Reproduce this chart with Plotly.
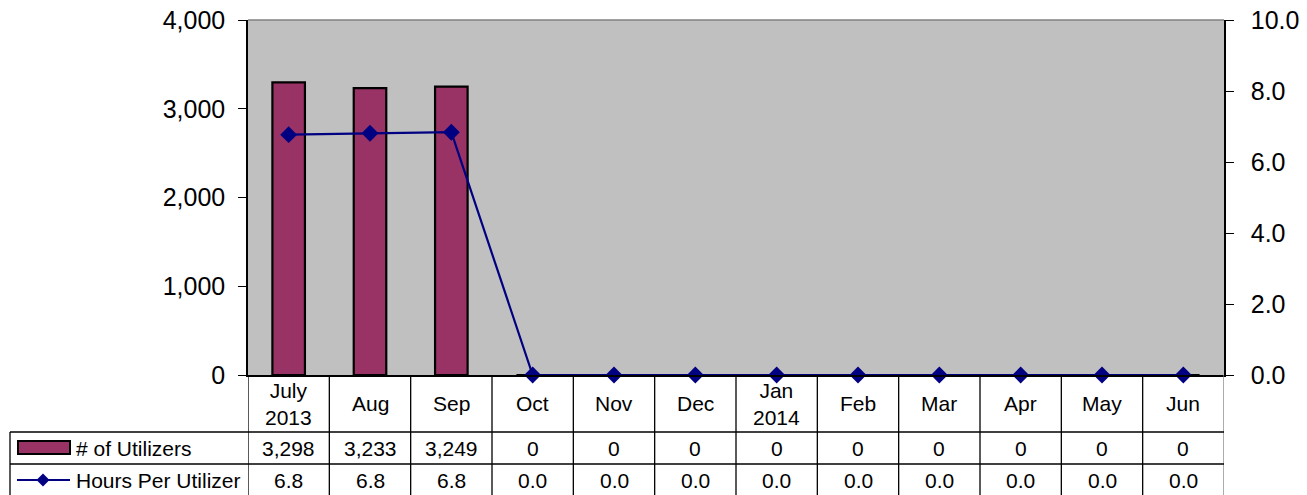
import plotly.graph_objects as go

months = ["July<br>2013", "Aug", "Sep", "Oct", "Nov", "Dec", "Jan<br>2014",
          "Feb", "Mar", "Apr", "May", "Jun"]
utilizers = [3298, 3233, 3249, 0, 0, 0, 0, 0, 0, 0, 0, 0]
hours = [6.77, 6.81, 6.84, 0, 0, 0, 0, 0, 0, 0, 0, 0]
utilizer_labels = ["3,298", "3,233", "3,249", "0", "0", "0", "0", "0", "0", "0", "0", "0"]
hours_labels = ["6.8", "6.8", "6.8", "0.0", "0.0", "0.0", "0.0", "0.0", "0.0", "0.0", "0.0", "0.0"]

OFF = 0
W, H = 1307 - OFF, 495 - OFF
L, R, T, B = 248 - OFF, 83, 20 - OFF, 120
PW, PH = W - L - R, H - T - B
FONT = "Liberation Sans, Arial, sans-serif"
TFS = 21


def px(x):
    return (x - OFF - L) / PW


def py(y):
    return (H - B - (y - OFF)) / PH


idx = list(range(len(months)))

fig = go.Figure()
fig.add_trace(go.Bar(
    x=idx, y=utilizers, width=0.4, name="# of Utilizers",
    marker=dict(color="#993366", line=dict(color="#000000", width=2.2)),
    yaxis="y",
))
fig.add_trace(go.Scatter(
    x=idx, y=hours, name="Hours Per Utilizer", mode="lines+markers",
    line=dict(color="#000080", width=2.2),
    marker=dict(symbol="diamond", size=13, color="#000080"),
    yaxis="y2", cliponaxis=False,
))

shapes = []
shapes.append(dict(type="line", xref="paper", yref="paper", x0=0, x1=1, y0=1, y1=1,
                   line=dict(color="#808080", width=1.5)))
y_head, y_r1, y_r2, y_bot = 375, 432, 464, 496
for i in range(len(months) + 1):
    shapes.append(dict(type="line", xref="x", yref="paper", x0=i - 0.5, x1=i - 0.5,
                       y0=py(y_head), y1=py(y_bot),
                       line=dict(color="#808080" if i == len(months) else "#000000", width=1.3)))
for yy in (y_r1, y_r2):
    shapes.append(dict(type="line", xref="paper", yref="paper", x0=px(10), x1=1,
                       y0=py(yy), y1=py(yy), line=dict(color="#000000", width=1.3)))
shapes.append(dict(type="line", xref="paper", yref="paper", x0=px(10), x1=px(10),
                   y0=py(y_r1), y1=py(y_bot), line=dict(color="#000000", width=1.3)))
shapes.append(dict(type="rect", xref="paper", yref="paper", x0=px(18), x1=px(70),
                   y0=py(454), y1=py(441), fillcolor="#993366",
                   line=dict(color="#000000", width=2)))
shapes.append(dict(type="line", xref="paper", yref="paper", x0=px(17), x1=px(70),
                   y0=py(480), y1=py(480), line=dict(color="#000080", width=2)))
cx, cy, d = 43, 480, 6.5
shapes.append(dict(type="path", xref="paper", yref="paper",
                   path=f"M {px(cx - d)} {py(cy)} L {px(cx)} {py(cy - d)} L {px(cx + d)} {py(cy)} L {px(cx)} {py(cy + d)} Z",
                   fillcolor="#000080", line=dict(color="#000080", width=0)))

annotations = []
tf = dict(size=TFS, color="#000000", family=FONT)
for i, m in enumerate(months):
    annotations.append(dict(x=i, y=py(404), xref="x", yref="paper", text=m, showarrow=False,
                            font=tf, yanchor="middle"))
    annotations.append(dict(x=i, y=py(448), xref="x", yref="paper", text=utilizer_labels[i],
                            showarrow=False, font=tf, yanchor="middle"))
    annotations.append(dict(x=i, y=py(480), xref="x", yref="paper", text=hours_labels[i],
                            showarrow=False, font=tf, yanchor="middle"))
annotations.append(dict(x=px(74), y=py(448), xref="paper", yref="paper", text="# of Utilizers",
                        showarrow=False, xanchor="left", yanchor="middle", font=tf))
annotations.append(dict(x=px(74), y=py(480), xref="paper", yref="paper", text="Hours Per Utilizer",
                        showarrow=False, xanchor="left", yanchor="middle", font=tf))

fig.update_layout(
    width=W, height=H,
    margin=dict(l=L, r=R, t=T, b=B, pad=0, autoexpand=False),
    paper_bgcolor="#FFFFFF", plot_bgcolor="#C0C0C0",
    showlegend=False,
    font=dict(family=FONT, color="#000000"),
    xaxis=dict(range=[-0.5, len(months) - 0.5], showticklabels=False, ticks="",
               showgrid=False, zeroline=False, showline=True, linecolor="#000000",
               linewidth=1.5, fixedrange=True, automargin=False),
    yaxis=dict(range=[0, 4000], dtick=1000, tickformat=",", showgrid=False, zeroline=False,
               showline=True, linecolor="#000000", linewidth=1.5, ticks="outside",
               ticklen=8, tickcolor="#000000", tickfont=dict(size=25, color="#000000"),
               ticklabelstandoff=8, automargin=False, ticklabeloverflow="allow"),
    yaxis2=dict(range=[0, 10], dtick=2, tickformat=".1f", overlaying="y", side="right",
                showgrid=False, zeroline=False, showline=True, linecolor="#000000",
                linewidth=1.5, ticks="outside", ticklen=8, tickcolor="#000000",
                tickfont=dict(size=25, color="#000000"), ticklabelstandoff=12,
                automargin=False, ticklabeloverflow="allow"),
    shapes=shapes, annotations=annotations,
)

fig.write_html("out.html", config={"displayModeBar": False},
               post_script="document.body.style.margin='0';document.body.style.overflow='hidden';")
